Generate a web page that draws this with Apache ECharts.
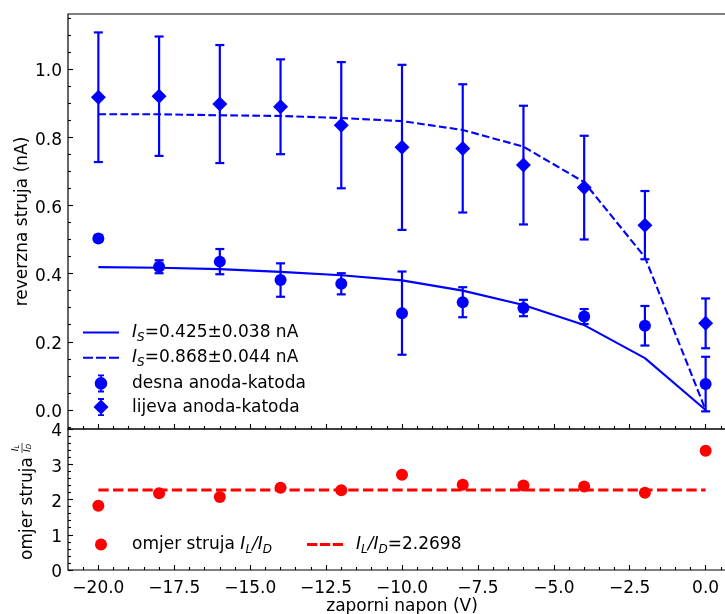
<!DOCTYPE html>
<html>
<head>
<meta charset="utf-8">
<script src="https://cdn.jsdelivr.net/npm/echarts@6/dist/echarts.min.js"></script>
<style>
  html, body { margin: 0; padding: 0; background: #fff; }
  #chart { width: 725px; height: 614px; }
</style>
</head>
<body>
<div id="chart"></div>
<script>
// Reverse-bias current of the two anode-cathode pairs and their ratio
const napon = [-20, -18, -16, -14, -12, -10, -8, -6, -4, -2, 0];

const desnaStruja = [0.503, 0.420, 0.435, 0.381, 0.370, 0.284, 0.316, 0.299, 0.274, 0.247, 0.076];
const desnaGreska = [0.010, 0.019, 0.037, 0.049, 0.031, 0.122, 0.044, 0.024, 0.022, 0.058, 0.080];

const lijevaStruja = [0.917, 0.920, 0.897, 0.889, 0.835, 0.770, 0.767, 0.718, 0.652, 0.542, 0.254];
const lijevaGreska = [0.190, 0.175, 0.173, 0.139, 0.185, 0.242, 0.188, 0.174, 0.152, 0.100, 0.073];

const fitDesna  = [0.419, 0.417, 0.413, 0.405, 0.395, 0.380, 0.350, 0.308, 0.249, 0.152, 0.0];
const fitLijeva = [0.867, 0.867, 0.864, 0.862, 0.856, 0.847, 0.821, 0.772, 0.668, 0.448, 0.0];

const omjer = [1.82, 2.18, 2.07, 2.33, 2.26, 2.70, 2.42, 2.40, 2.37, 2.19, 3.38];
const omjerSrednji = 2.2698;

// tick positions
const xGlavne = [-20, -17.5, -15, -12.5, -10, -7.5, -5, -2.5, 0];
const yGlavneGornji = [0, 0.2, 0.4, 0.6, 0.8, 1.0];
const yGlavneDonji = [0, 1, 2, 3, 4];

const xSporedne = [];
for (let k = -41; k <= 1; k++) if (k % 5 !== 0) xSporedne.push(k * 0.5);
const ySporedneGornji = [];
for (let k = -1; k <= 23; k++) if (k % 4 !== 0) ySporedneGornji.push(Math.round(k * 5) / 100);
const ySporedneDonji = [];
for (let k = 1; k <= 19; k++) if (k % 5 !== 0) ySporedneDonji.push(k / 5);

const FONT = 'DejaVu Sans';
const PLAVA = '#0000ff';
const CRVENA = '#ff0000';

const legendTekst = {
  fitD:   '{it|I}{sub|S}{t|=0.425±0.038 nA}',
  fitL:   '{it|I}{sub|S}{t|=0.868±0.044 nA}',
  desna:  '{t|desna anoda-katoda}',
  lijeva: '{t|lijeva anoda-katoda}',
  omjer:  '{t|omjer struja }{it|I}{sub|L}{it|/I}{sub|D}',
  srednji:'{it|I}{sub|L}{it|/I}{sub|D}{t|=2.2698}'
};

const rich = {
  t:   { fontFamily: FONT, fontSize: 17, lineHeight: 22, color: '#000' },
  it:  { fontFamily: FONT, fontSize: 17, lineHeight: 22, fontStyle: 'italic', color: '#000' },
  sub: { fontFamily: FONT, fontSize: 12, lineHeight: 12, fontStyle: 'italic', verticalAlign: 'bottom', color: '#000' }
};

// y tick labels sit slightly below the tick, as in baseline-centred layout
const yLabelRich = { v: { fontFamily: FONT, fontSize: 17, color: '#000', padding: [6, 0, 0, 0] } };

// legend icons
const ikonaPuna = 'path://M0,0H36V2.1H0Z';
const ikonaCrtkana = 'path://M0,0H10V2.1H0ZM13,0H23V2.1H13ZM26,0H36V2.1H26Z';
const ikonaCrtkanaDeblja = 'path://M0,0H10.3V2.8H0ZM12.85,0H23.15V2.8H12.85ZM25.7,0H36V2.8H25.7Z';
const ikonaKrug = 'path://M4.5,0H10.5V1.8H8.4V2.8H6.6V1.8H4.5Z' +
  'M1.2,9A6.3,6.3 0 1,1 13.8,9A6.3,6.3 0 1,1 1.2,9Z' +
  'M6.6,15.2H8.4V16.2H10.5V18H4.5V16.2H6.6Z';
const ikonaRomb = 'path://M4.5,0H10.5V1.8H8.4V2.5H6.6V1.8H4.5Z' +
  'M7.5,1.5L15,9L7.5,16.5L0,9Z' +
  'M6.6,15.5H8.4V16.2H10.5V18H4.5V16.2H6.6Z';
const ikonaTocka = 'path://M0,6A6,6 0 1,1 12,6A6,6 0 1,1 0,6Z';

function fmtX(v) {
  return (v < 0 ? '\u2212' : '') + Math.abs(v).toFixed(1);
}

function greskaRender(boja) {
  return function (params, api) {
    const x = api.value(0), y = api.value(1), e = api.value(2);
    const gore = api.coord([x, y + e]);
    const dolje = api.coord([x, y - e]);
    const p = 4.5;
    const st = { stroke: boja, lineWidth: 2.2 };
    return {
      type: 'group',
      children: [
        { type: 'line', shape: { x1: gore[0], y1: gore[1], x2: dolje[0], y2: dolje[1] }, style: st },
        { type: 'line', shape: { x1: gore[0] - p, y1: gore[1], x2: gore[0] + p, y2: gore[1] }, style: st },
        { type: 'line', shape: { x1: dolje[0] - p, y1: dolje[1], x2: dolje[0] + p, y2: dolje[1] }, style: st }
      ]
    };
  };
}

const labelStil = { fontFamily: FONT, fontSize: 17, color: '#000' };
const tickStil = { color: '#000', width: 1.1 };

function vrijednosnaOs(extra) {
  return Object.assign({
    type: 'value',
    splitLine: { show: false },
    axisLine: { show: false, onZero: false },
    nameMoveOverlap: false
  }, extra);
}

const option = {
  animation: false,
  backgroundColor: '#fff',
  grid: [
    { left: 68, top: 14, width: 668, height: 415, show: true, borderColor: '#000', borderWidth: 1.2,
      outerBoundsMode: 'none', containLabel: false },
    { left: 68, top: 429, width: 668, height: 141, show: true, borderColor: '#000', borderWidth: 1.2,
      outerBoundsMode: 'none', containLabel: false }
  ],
  xAxis: [
    vrijednosnaOs({ gridIndex: 0, position: 'bottom', min: -21, max: 1,
      axisTick: { inside: true, length: 5, lineStyle: tickStil, customValues: xGlavne },
      axisLabel: { show: false } }),
    vrijednosnaOs({ gridIndex: 0, position: 'bottom', min: -21, max: 1,
      axisTick: { inside: true, length: 3, lineStyle: tickStil, customValues: xSporedne },
      axisLabel: { show: false } }),
    vrijednosnaOs({ gridIndex: 1, position: 'bottom', min: -21, max: 1,
      name: 'zaporni napon (V)', nameLocation: 'middle', nameGap: 28,
      nameTextStyle: labelStil,
      axisTick: { inside: true, length: 5, lineStyle: tickStil, customValues: xGlavne },
      axisLabel: Object.assign({ margin: 10, customValues: xGlavne, formatter: fmtX }, labelStil) }),
    vrijednosnaOs({ gridIndex: 1, position: 'bottom', min: -21, max: 1,
      axisTick: { inside: true, length: 3, lineStyle: tickStil, customValues: xSporedne },
      axisLabel: { show: false } })
  ],
  yAxis: [
    vrijednosnaOs({ gridIndex: 0, position: 'left', min: -0.0557, max: 1.161,
      name: 'reverzna struja (nA)', nameLocation: 'middle', nameGap: 37,
      nameTextStyle: labelStil,
      axisTick: { inside: true, length: 5, lineStyle: tickStil, customValues: yGlavneGornji },
      axisLabel: Object.assign({ margin: 6, customValues: yGlavneGornji, rich: yLabelRich,
        formatter: v => '{v|' + v.toFixed(1) + '}' }, labelStil) }),
    vrijednosnaOs({ gridIndex: 0, position: 'left', min: -0.0557, max: 1.161,
      axisTick: { inside: true, length: 3, lineStyle: tickStil, customValues: ySporedneGornji },
      axisLabel: { show: false } }),
    vrijednosnaOs({ gridIndex: 1, position: 'left', min: 0, max: 4,
      name: 'omjer struja', nameLocation: 'middle', nameGap: 32,
      nameTextStyle: Object.assign({ padding: [0, 18, 0, 0] }, labelStil),
      axisTick: { inside: true, length: 5, lineStyle: tickStil, customValues: yGlavneDonji },
      axisLabel: Object.assign({ margin: 6, customValues: yGlavneDonji, rich: yLabelRich,
        formatter: v => '{v|' + v + '}' }, labelStil) }),
    vrijednosnaOs({ gridIndex: 1, position: 'left', min: 0, max: 4,
      axisTick: { inside: true, length: 3, lineStyle: tickStil, customValues: ySporedneDonji },
      axisLabel: { show: false } })
  ],
  legend: [
    {
      orient: 'vertical', left: 83, top: 324, padding: 0,
      itemWidth: 36, itemHeight: 18, itemGap: 5.7,
      selectedMode: false,
      data: [{ name: 'fitD', icon: ikonaPuna }, { name: 'fitL', icon: ikonaCrtkana },
             { name: 'desna', icon: ikonaKrug }, { name: 'lijeva', icon: ikonaRomb }],
      formatter: n => legendTekst[n],
      textStyle: { fontFamily: FONT, fontSize: 17, color: '#000', padding: [0, 0, 0, 8], rich: rich }
    },
    {
      orient: 'horizontal', left: 95, top: 536, padding: 0,
      itemWidth: 36, itemHeight: 12, itemGap: 35,
      selectedMode: false,
      data: [{ name: 'omjer', icon: ikonaTocka }, { name: 'srednji', icon: ikonaCrtkanaDeblja }],
      formatter: n => legendTekst[n],
      textStyle: { fontFamily: FONT, fontSize: 17, color: '#000', padding: [0, 0, 0, 8], rich: rich }
    }
  ],
  graphic: [
    {
      // fraction I_L / I_D next to the lower axis title
      type: 'group', x: 22, y: 448, rotation: Math.PI / 2,
      children: [
        { type: 'text', x: 0, y: -1, style: {
            text: '{i|I}{s|L}', align: 'center', verticalAlign: 'bottom',
            rich: { i: { fontFamily: FONT, fontSize: 9.5, fontStyle: 'italic', color: '#000' },
                    s: { fontFamily: FONT, fontSize: 7, fontStyle: 'italic', color: '#000', verticalAlign: 'bottom' } } } },
        { type: 'line', shape: { x1: -5, y1: 0, x2: 5, y2: 0 }, style: { stroke: '#000', lineWidth: 0.7 } },
        { type: 'text', x: 0, y: 1, style: {
            text: '{i|I}{s|D}', align: 'center', verticalAlign: 'top',
            rich: { i: { fontFamily: FONT, fontSize: 9.5, fontStyle: 'italic', color: '#000' },
                    s: { fontFamily: FONT, fontSize: 7, fontStyle: 'italic', color: '#000', verticalAlign: 'bottom' } } } }
      ]
    }
  ],
  series: [
    {
      name: 'fitD', type: 'line', xAxisIndex: 0, yAxisIndex: 0,
      data: napon.map((v, i) => [v, fitDesna[i]]),
      symbol: 'none', color: PLAVA,
      lineStyle: { color: PLAVA, width: 2.1, type: 'solid' }, z: 2
    },
    {
      name: 'fitL', type: 'line', xAxisIndex: 0, yAxisIndex: 0,
      data: napon.map((v, i) => [v, fitLijeva[i]]),
      symbol: 'none', color: PLAVA,
      lineStyle: { color: PLAVA, width: 2.1, type: [7.7, 3.3] }, z: 2
    },
    {
      name: 'desnaGreska', type: 'custom', xAxisIndex: 0, yAxisIndex: 0,
      data: napon.map((v, i) => [v, desnaStruja[i], desnaGreska[i]]),
      encode: { x: 0, y: 1 }, renderItem: greskaRender(PLAVA), z: 3
    },
    {
      name: 'lijevaGreska', type: 'custom', xAxisIndex: 0, yAxisIndex: 0,
      data: napon.map((v, i) => [v, lijevaStruja[i], lijevaGreska[i]]),
      encode: { x: 0, y: 1 }, renderItem: greskaRender(PLAVA), z: 3
    },
    {
      name: 'desna', type: 'scatter', xAxisIndex: 0, yAxisIndex: 0,
      data: napon.map((v, i) => [v, desnaStruja[i]]),
      symbol: 'circle', symbolSize: 12, itemStyle: { color: PLAVA, opacity: 1 }, z: 4
    },
    {
      name: 'lijeva', type: 'scatter', xAxisIndex: 0, yAxisIndex: 0,
      data: napon.map((v, i) => [v, lijevaStruja[i]]),
      symbol: 'diamond', symbolSize: 15, itemStyle: { color: PLAVA, opacity: 1 }, z: 4
    },
    {
      name: 'omjer', type: 'scatter', xAxisIndex: 2, yAxisIndex: 2,
      data: napon.map((v, i) => [v, omjer[i]]),
      symbol: 'circle', symbolSize: 12, itemStyle: { color: CRVENA, opacity: 1 }, z: 4
    },
    {
      name: 'srednji', type: 'line', xAxisIndex: 2, yAxisIndex: 2,
      data: [[napon[0], omjerSrednji], [napon[napon.length - 1], omjerSrednji]],
      symbol: 'none', color: CRVENA,
      lineStyle: { color: CRVENA, width: 2.8, type: [10.3, 4.4] }, z: 3
    }
  ]
};

const chart = echarts.init(document.getElementById('chart'), null, { renderer: 'canvas' });
chart.setOption(option);
</script>
</body>
</html>
